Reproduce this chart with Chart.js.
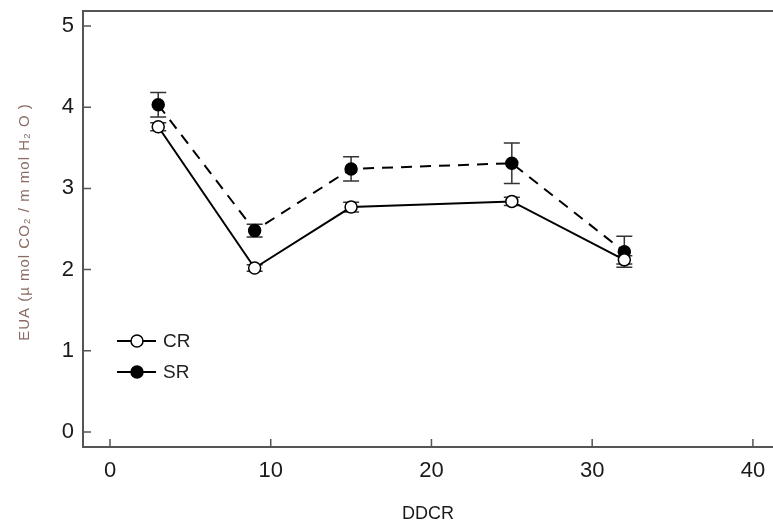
<!DOCTYPE html>
<html>
<head>
<meta charset="utf-8">
<script src="https://cdn.jsdelivr.net/npm/chart.js@4.4.1/dist/chart.umd.min.js"></script>
<style>
  html, body { margin: 0; padding: 0; background: #fff; }
  #wrap { width: 773px; height: 529px; position: relative; }
</style>
</head>
<body>
<div id="wrap"><canvas id="myChart"></canvas></div>
<script>
// days (DDCR) and series values
const days = [3, 9, 15, 25, 32];
const crValues = [3.76, 2.02, 2.77, 2.84, 2.12];
const crErrors = [0.05, 0.04, 0.06, 0.05, 0.05];
const srValues = [4.03, 2.48, 3.24, 3.31, 2.22];
const srErrors = [0.15, 0.08, 0.15, 0.25, 0.19];
const xTicks = [0, 10, 20, 30, 40];
const yTicks = [0, 1, 2, 3, 4, 5];

const frameColor = '#555';

function toPoints(xs, ys) {
    return xs.map(function(x, i) { return { x: x, y: ys[i] }; });
}

// error bars, inward ticks, top frame, legend and y title
const extras = {
    id: 'extras',
    beforeDatasetsDraw: function(chart) {
        const ctx = chart.ctx;
        const xs = chart.scales.x, ys = chart.scales.y;
        const sets = [[crValues, crErrors], [srValues, srErrors]];
        ctx.save();
        ctx.strokeStyle = '#333';
        ctx.lineWidth = 1.5;
        sets.forEach(function(s) {
            days.forEach(function(d, i) {
                const px = xs.getPixelForValue(d);
                const top = ys.getPixelForValue(s[0][i] + s[1][i]);
                const bot = ys.getPixelForValue(s[0][i] - s[1][i]);
                ctx.beginPath();
                ctx.moveTo(px, top); ctx.lineTo(px, bot);
                ctx.moveTo(px - 8, top); ctx.lineTo(px + 8, top);
                ctx.moveTo(px - 8, bot); ctx.lineTo(px + 8, bot);
                ctx.stroke();
            });
        });
        ctx.restore();
    },
    afterDraw: function(chart) {
        const ctx = chart.ctx;
        const area = chart.chartArea;
        const xs = chart.scales.x, ys = chart.scales.y;
        ctx.save();
        ctx.strokeStyle = frameColor;
        ctx.lineWidth = 2;
        ctx.beginPath();
        ctx.moveTo(area.left, area.top);
        ctx.lineTo(area.right, area.top);
        ctx.stroke();
        ctx.lineWidth = 1.5;
        ctx.beginPath();
        yTicks.forEach(function(v) {
            const py = ys.getPixelForValue(v);
            ctx.moveTo(area.left, py); ctx.lineTo(area.left + 8, py);
        });
        xTicks.forEach(function(v) {
            const px = xs.getPixelForValue(v);
            ctx.moveTo(px, area.bottom); ctx.lineTo(px, area.bottom - 8);
        });
        ctx.stroke();

        // legend (both entries drawn with solid lines, as in the figure)
        const legend = [['CR', '#fff', 341], ['SR', '#000', 372]];
        ctx.font = '19px "Liberation Sans", Arial, sans-serif';
        ctx.textBaseline = 'middle';
        legend.forEach(function(l) {
            ctx.strokeStyle = '#000';
            ctx.lineWidth = 2;
            ctx.beginPath();
            ctx.moveTo(117, l[2]); ctx.lineTo(156, l[2]);
            ctx.stroke();
            ctx.beginPath();
            ctx.arc(137, l[2], 6, 0, Math.PI * 2);
            ctx.fillStyle = l[1];
            ctx.fill();
            ctx.lineWidth = 1.5;
            ctx.stroke();
            ctx.fillStyle = '#222';
            ctx.fillText(l[0], 163, l[2] + 1);
        });

        // y axis title
        ctx.translate(25, 222);
        ctx.rotate(-Math.PI / 2);
        ctx.textAlign = 'center';
        ctx.textBaseline = 'middle';
        ctx.fillStyle = '#8a6c64';
        ctx.font = '15px "Liberation Sans", Arial, sans-serif';
        ctx.letterSpacing = '1px';
        ctx.fillText('EUA (\u00b5 mol CO\u2082 / m mol H\u2082 O )', 0, 0);
        ctx.restore();
    }
};

const ctx = document.getElementById('myChart').getContext('2d');

const config = {
    type: 'line',
    data: {
        datasets: [{
            label: 'CR',
            data: toPoints(days, crValues),
            borderColor: '#000',
            borderWidth: 2,
            pointRadius: 6,
            pointBorderWidth: 1.5,
            pointBackgroundColor: '#fff',
            pointBorderColor: '#000',
            tension: 0
        }, {
            label: 'SR',
            data: toPoints(days, srValues),
            borderColor: '#000',
            borderWidth: 2,
            borderDash: [11, 8],
            pointRadius: 6,
            pointBorderWidth: 1.5,
            pointBackgroundColor: '#000',
            pointBorderColor: '#000',
            tension: 0
        }]
    },
    options: {
        responsive: true,
        maintainAspectRatio: false,
        animation: false,
        layout: { autoPadding: false, padding: { top: 11, right: 0, left: 0, bottom: 0 } },
        scales: {
            x: {
                type: 'linear',
                min: -1.68,
                max: 41.25,
                afterBuildTicks: function(scale) {
                    scale.ticks = xTicks.map(function(v) { return { value: v }; });
                },
                afterFit: function(scale) {
                    scale.height = 82;
                    scale.paddingLeft = 0;
                    scale.paddingRight = 0;
                },
                grid: { display: false, drawTicks: false },
                border: { display: true, color: frameColor, width: 2 },
                ticks: {
                    padding: 11,
                    color: '#1a1a1a',
                    font: { family: '"Liberation Sans", Arial, sans-serif', size: 22 }
                },
                title: {
                    display: true,
                    text: 'DDCR',
                    color: '#1a1a1a',
                    padding: { top: 12 },
                    font: { family: '"Liberation Sans", Arial, sans-serif', size: 18 }
                }
            },
            y: {
                min: -0.185,
                max: 5.185,
                afterBuildTicks: function(scale) {
                    scale.ticks = yTicks.map(function(v) { return { value: v }; });
                },
                afterFit: function(scale) {
                    scale.width = 83;
                    scale.paddingTop = 0;
                    scale.paddingBottom = 0;
                },
                grid: { display: false, drawTicks: false },
                border: { display: true, color: frameColor, width: 2 },
                ticks: {
                    padding: 9,
                    color: '#1a1a1a',
                    font: { family: '"Liberation Sans", Arial, sans-serif', size: 22 }
                }
            }
        },
        plugins: {
            legend: { display: false },
            tooltip: { enabled: false }
        }
    },
    plugins: [extras]
};

const myChart = new Chart(ctx, config);
</script>
</body>
</html>
